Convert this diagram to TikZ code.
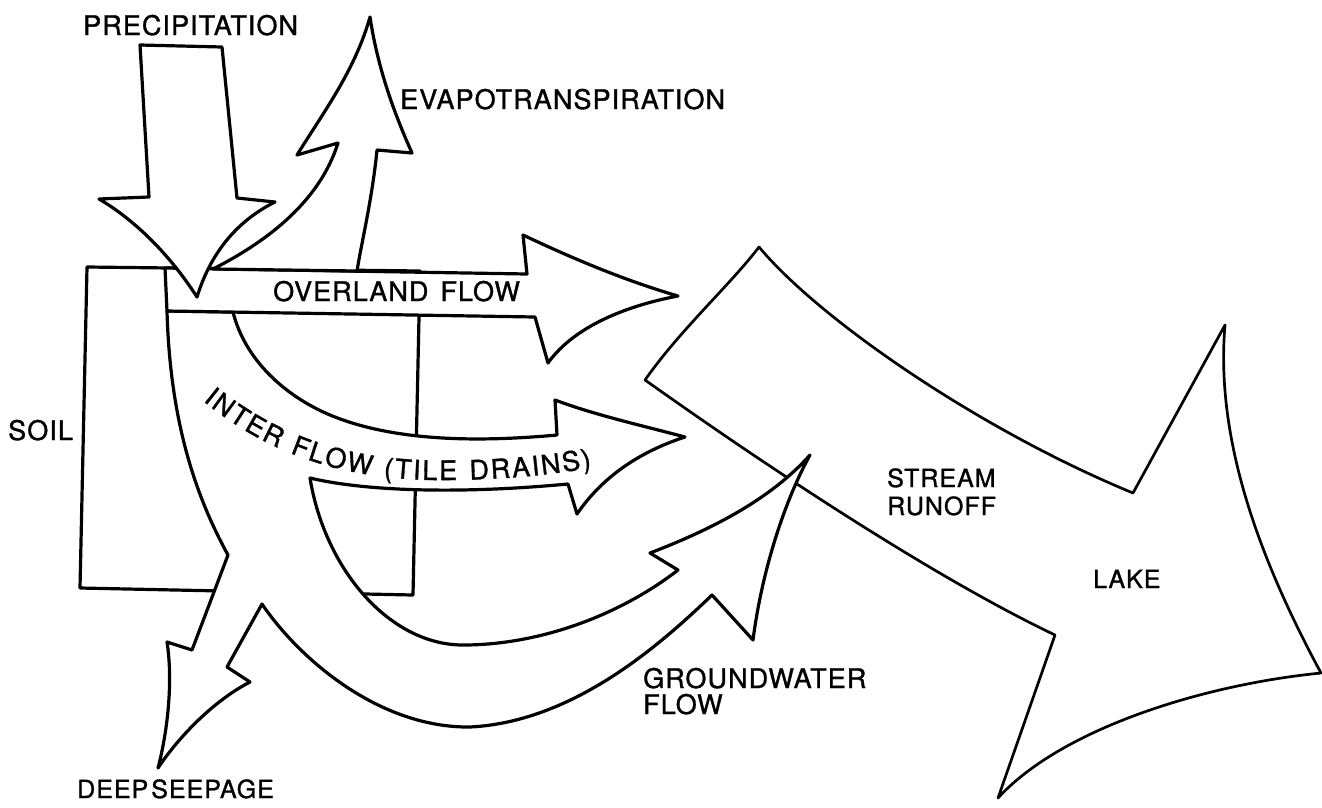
\documentclass[tikz,border=0pt]{standalone}
\usepackage{fontspec}
\setmainfont{TeX Gyre Heros}
\newfontfamily\lblfam[LetterSpace=4,FakeBold=1.2]{TeX Gyre Heros}
\newcommand{\lblfont}{\lblfam\fontsize{27}{31}\selectfont}
\newcommand{\lblsmall}{\lblfam\fontsize{25}{29}\selectfont}
\usetikzlibrary{decorations.text}
\begin{document}
\begin{tikzpicture}[x=1pt,y=-1pt,
  shapeline/.style={draw=black, fill=white, line width=3.2pt, line join=round},
  thinshape/.style={shapeline, line width=2.7pt},
  lbl/.style={inner sep=0pt, font=\lblfont, anchor=base west},
  lblsm/.style={lbl, font=\lblsmall}]
\useasboundingbox (0,0) rectangle (1322,807);

% soil box
\draw[shapeline] (87,267) -- (420,271) -- (413,595) -- (80,588) -- cycle;

% stream runoff / lake
\draw[thinshape] (759,247) .. controls (820,320) and (980,430) .. (1133,493)
  -- (1225,325) .. controls (1215,440) and (1260,560) .. (1321,673)
  .. controls (1200,685) and (1060,730) .. (998,798)
  -- (1055,635) .. controls (950,585) and (800,490) .. (645,380)
  .. controls (680,330) and (730,285) .. (759,247) -- cycle;

% interflow + groundwater + deep seepage
\draw[shapeline] (167,311) .. controls (170,420) and (195,495) .. (228,555)
  -- (192,650) -- (167,642) .. controls (173,680) and (168,730) .. (158,768)
  .. controls (180,735) and (215,700) .. (250,682)
  -- (227,667) -- (262,604)
  .. controls (300,660) and (380,728) .. (470,727)
  .. controls (570,722) and (655,650) .. (712,595)
  -- (753,640) .. controls (762,570) and (785,500) .. (810,455)
  .. controls (770,500) and (710,530) .. (650,553)
  -- (678,570) .. controls (620,615) and (540,645) .. (463,645)
  .. controls (390,645) and (325,570) .. (310,478)
  .. controls (360,490) and (450,495) .. (568,484)
  -- (577,514) .. controls (605,473) and (645,450) .. (685,437)
  .. controls (640,425) and (595,415) .. (555,400)
  -- (557,435) .. controls (470,443) and (390,440) .. (330,415)
  .. controls (285,396) and (245,360) .. (233,312) -- cycle;

% overland flow
\draw[shapeline] (165,268) -- (527,274) -- (523,235)
  .. controls (580,262) and (630,282) .. (678,296)
  .. controls (630,305) and (575,325) .. (548,363)
  -- (535,317) -- (167,311) -- cycle;

% evapotranspiration
\draw[shapeline] (213,269) .. controls (270,240) and (320,200) .. (338,143)
  -- (297,155) .. controls (325,110) and (355,70) .. (370,17)
  .. controls (378,70) and (395,115) .. (412,153)
  -- (377,150) .. controls (372,200) and (362,240) .. (357,271) -- cycle;

% precipitation
\draw[shapeline] (140,45) -- (222,47) -- (237,198) -- (275,202)
  .. controls (235,222) and (210,255) .. (197,297)
  .. controls (170,255) and (135,220) .. (99,199)
  -- (149,197) -- cycle;

% labels
\node[lbl] (precip) at (83,35) {PRECIPITATION};
\node[lbl] (evap) at (400,109) {EVAPOTRANSPIRATION};
\node[lbl] (overland) at (273,301) {OVERLAND\hspace{12pt}FLOW};
\node[lbl] (soil) at (8,440) {SOIL};
\node[lblsm] (stream) at (887,487) {STREAM};
\node[lblsm] (runoff) at (887,515) {RUNOFF};
\node[lblsm] (lake) at (1093,588) {LAKE};
\node[lbl] (ground) at (643,688) {GROUNDWATER};
\node[lbl] (gflow) at (643,714) {FLOW};
\node[lblsm] (deep) at (77,798) {DEEP\hspace{3pt}SEEPAGE};

\path[decorate, decoration={text along path,
    text={|\lblfont|INTER FLOW (TILE DRAINS)}, text align={fit to path}}]
  (203,401) .. controls (260,447) and (330,478) .. (430,480)
  .. controls (500,481) and (560,474) .. (592,467);
\end{tikzpicture}
\end{document}
